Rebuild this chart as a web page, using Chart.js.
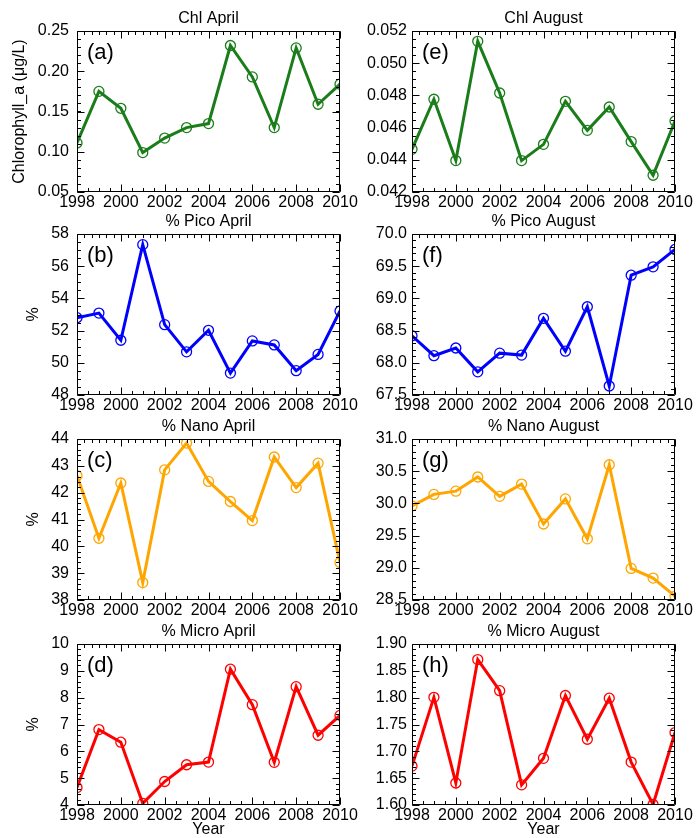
<!DOCTYPE html>
<html>
<head>
<meta charset="utf-8">
<script src="https://cdn.jsdelivr.net/npm/chart.js@4.4.0/dist/chart.umd.min.js"></script>
<style>
  html, body { margin: 0; padding: 0; background: #fff; overflow: hidden; }
  body { position: relative; width: 696px; height: 838px; }
  canvas { position: absolute; }
</style>
</head>
<body>
<script>
// Years on the x axis
const years = [1998, 1999, 2000, 2001, 2002, 2003, 2004, 2005, 2006, 2007, 2008, 2009, 2010];

// Chlorophyll-a (µg/L)
const chlApril  = [0.111, 0.175, 0.154, 0.099, 0.117, 0.130, 0.135, 0.232, 0.193, 0.130, 0.229, 0.159, 0.184];
const chlAugust = [0.04465, 0.04776, 0.04395, 0.05136, 0.04815, 0.04395, 0.04496, 0.04763, 0.04583, 0.04728, 0.04513, 0.04304, 0.04641];

// Size-class fractions (%)
const picoApril   = [52.80, 53.09, 51.40, 57.34, 52.37, 50.68, 52.02, 49.36, 51.36, 51.11, 49.51, 50.52, 53.22];
const picoAugust  = [68.42, 68.11, 68.23, 67.86, 68.15, 68.12, 68.69, 68.18, 68.87, 67.64, 69.36, 69.49, 69.76];
const nanoApril   = [42.63, 40.30, 42.36, 38.65, 42.85, 43.85, 42.42, 41.67, 40.96, 43.33, 42.19, 43.10, 39.40];
const nanoAugust  = [29.96, 30.14, 30.19, 30.41, 30.11, 30.30, 29.68, 30.07, 29.45, 30.60, 28.99, 28.84, 28.56];
const microApril  = [4.65, 6.81, 6.34, 4.06, 4.875, 5.50, 5.60, 9.06, 7.74, 5.59, 8.41, 6.60, 7.34];
const microAugust = [1.6725, 1.8006, 1.641, 1.871, 1.813, 1.6375, 1.687, 1.804, 1.7225, 1.799, 1.680, 1.601, 1.735];

// Panel titles and labels
const panelTitles = ['Chl April', '% Pico April', '% Nano April', '% Micro April',
                     'Chl August', '% Pico August', '% Nano August', '% Micro August'];
const panelTags = ['(a)', '(b)', '(c)', '(d)', '(e)', '(f)', '(g)', '(h)'];
const yTitles = ['Chlorophyll_a (\u03bcg/L)', '%', '%', '%'];
const xTitle = 'Year';

// Axis ranges: [min, max, major step, minor step, decimals]
const yAxesApril  = [[0.05, 0.25, 0.05, 0.01, 2], [48, 58, 2, 0.5, 0], [38, 44, 1, 0.2, 0], [4, 10, 1, 0.2, 0]];
const yAxesAugust = [[0.042, 0.052, 0.002, 0.0005, 3], [67.5, 70.0, 0.5, 0.1, 1], [28.5, 31.0, 0.5, 0.1, 1], [1.60, 1.90, 0.05, 0.01, 2]];

const GREEN = '#1a7d1a', BLUE = '#0000ff', ORANGE = '#ffa500', RED = '#ff0000';
const seriesColors = [GREEN, BLUE, ORANGE, RED];

Chart.defaults.font.family = '"Liberation Sans", Arial, Helvetica, sans-serif';
Chart.defaults.font.size = 16;
Chart.defaults.color = '#000';

// Layout of the 4x2 grid of plot frames
const ROW_TOP = [31, 234, 439, 644];
const PLOT_H = 161;
const PLOT_W = 263;
const COL = [
  { canvasLeft: 0,   plotLeft: 77,  width: 362, labelPad: 8 },
  { canvasLeft: 348, plotLeft: 412, width: 348, labelPad: 5 }
];
const TITLE_BLOCK = 31;

// Inward major/minor ticks on all four sides, the frame and the panel tag
const frameTicks = {
  id: 'frameTicks',
  afterDatasetsDraw(chart, args, opts) {
    const { ctx, chartArea: a, scales: { x, y } } = chart;
    const L = Math.round(a.left) + 0.5, R = Math.round(a.right) - 0.5;
    const T = Math.round(a.top) + 0.5, B = Math.round(a.bottom) - 0.5;
    const MAJ = 7, MIN = 3.5;
    ctx.save();
    ctx.strokeStyle = '#000';
    ctx.lineWidth = 1;
    ctx.beginPath();
    ctx.rect(L, T, R - L, B - T);
    // y ticks
    const yMinorN = Math.round((y.max - y.min) / opts.yMinor);
    for (let k = 0; k <= yMinorN; k++) {
      const py = Math.round(y.getPixelForValue(y.min + k * opts.yMinor)) + 0.5;
      ctx.moveTo(L, py); ctx.lineTo(L + MIN, py);
      ctx.moveTo(R, py); ctx.lineTo(R - MIN, py);
    }
    y.ticks.forEach(t => {
      const py = Math.round(y.getPixelForValue(t.value)) + 0.5;
      ctx.moveTo(L, py); ctx.lineTo(L + MAJ, py);
      ctx.moveTo(R, py); ctx.lineTo(R - MAJ, py);
    });
    // x ticks: half-year minors below, third-year minors above
    const span = x.max - x.min;
    const nb = Math.round(span / 0.5);
    for (let k = 0; k <= nb; k++) {
      const px = Math.round(x.getPixelForValue(x.min + k * 0.5)) + 0.5;
      ctx.moveTo(px, B); ctx.lineTo(px, B - MIN);
    }
    const nt = Math.round(span * 3);
    for (let k = 0; k <= nt; k++) {
      const px = Math.round(x.getPixelForValue(x.min + k / 3)) + 0.5;
      ctx.moveTo(px, T); ctx.lineTo(px, T + MIN);
    }
    x.ticks.forEach(t => {
      const px = Math.round(x.getPixelForValue(t.value)) + 0.5;
      ctx.moveTo(px, B); ctx.lineTo(px, B - MAJ);
      ctx.moveTo(px, T); ctx.lineTo(px, T + MAJ);
    });
    ctx.stroke();
    // panel tag
    ctx.fillStyle = '#000';
    ctx.font = '22px "Liberation Sans", Arial, sans-serif';
    ctx.textAlign = 'left';
    ctx.textBaseline = 'alphabetic';
    ctx.fillText(opts.tag, a.left + 10, a.top + 28);
    ctx.restore();
  }
};

function makePanel(col, row) {
  const idx = col * 4 + row;
  const series = [chlApril, picoApril, nanoApril, microApril, chlAugust, picoAugust, nanoAugust, microAugust][idx];
  const [ymin, ymax, ystep, yminor, dec] = (col === 0 ? yAxesApril : yAxesAugust)[row];
  const c = COL[col];
  const isBottom = row === 3;
  const xH = isBottom ? 838 - (ROW_TOP[row] + PLOT_H) : 30;
  const H = TITLE_BLOCK + PLOT_H + xH;
  const yW = c.plotLeft - c.canvasLeft;

  const cv = document.createElement('canvas');
  cv.width = c.width; cv.height = H;
  cv.style.left = c.canvasLeft + 'px';
  cv.style.top = (ROW_TOP[row] - TITLE_BLOCK) + 'px';
  cv.style.width = c.width + 'px'; cv.style.height = H + 'px';
  document.body.appendChild(cv);

  const color = seriesColors[row];
  new Chart(cv, {
    type: 'line',
    data: {
      datasets: [{
        data: years.map((yr, i) => ({ x: yr, y: series[i] })),
        borderColor: color,
        borderWidth: 3,
        pointStyle: 'circle',
        pointRadius: 5,
        pointBorderWidth: 1.3,
        pointBorderColor: color,
        pointBackgroundColor: 'rgba(0,0,0,0)',
        tension: 0,
        clip: 0
      }]
    },
    options: {
      responsive: false,
      animation: false,
      devicePixelRatio: 1,
      layout: { padding: { left: 0, top: 0, bottom: 0, right: c.width - yW - PLOT_W } },
      plugins: {
        legend: { display: false },
        tooltip: { enabled: false },
        title: {
          display: true,
          text: panelTitles[idx],
          fullSize: false,
          font: { size: 16, weight: 'normal' },
          color: '#000',
          padding: { top: 8.7, bottom: TITLE_BLOCK - 8.7 - 19.2 }
        },
        frameTicks: { tag: panelTags[idx], yMinor: yminor }
      },
      scales: {
        x: {
          type: 'linear',
          min: 1998, max: 2010,
          grid: { display: false, drawTicks: false },
          border: { display: false },
          ticks: {
            stepSize: 2, autoSkip: false, maxRotation: 0, padding: 1,
            callback: v => String(v)
          },
          title: isBottom ? {
            display: true, text: xTitle,
            font: { size: 16, lineHeight: 1.0 },
            padding: { top: 0, bottom: 0 }
          } : { display: false },
          afterFit(s) { s.height = xH; s.paddingLeft = 0; s.paddingRight = 0; }
        },
        y: {
          type: 'linear',
          min: ymin, max: ymax,
          grid: { display: false, drawTicks: false },
          border: { display: false },
          ticks: {
            stepSize: ystep, autoSkip: false, padding: c.labelPad,
            callback: v => Number(v).toFixed(dec)
          },
          title: col === 0 ? {
            display: true, text: yTitles[row],
            font: { size: 16 },
            padding: { top: row === 0 ? 10.4 : 24.4, bottom: 0 }
          } : { display: false },
          afterFit(s) { s.width = yW; s.paddingTop = 0; s.paddingBottom = 0; }
        }
      }
    },
    plugins: [frameTicks]
  });
}

for (let col = 0; col < 2; col++) {
  for (let row = 0; row < 4; row++) makePanel(col, row);
}
</script>
</body>
</html>
